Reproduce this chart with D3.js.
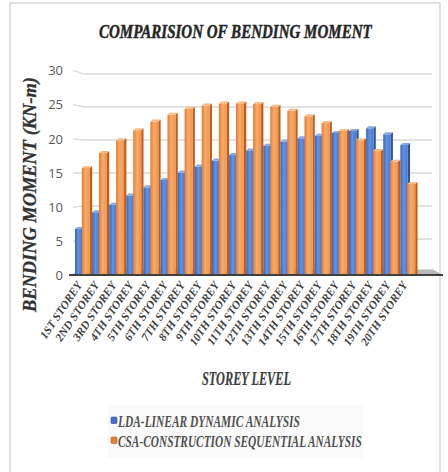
<!DOCTYPE html>
<html>
<head>
<meta charset="utf-8">
<script src="https://cdn.jsdelivr.net/npm/d3@7"></script>
<style>
  html, body { margin: 0; padding: 0; background: #ffffff; }
  svg { display: block; }
</style>
</head>
<body>
<div id="chart"></div>
<script>
// Storey levels along the x axis
const categories = [
  "1ST STOREY", "2ND STOREY", "3RD STOREY", "4TH STOREY", "5TH STOREY",
  "6TH STOREY", "7TH STOREY", "8TH STOREY", "9TH STOREY", "10TH STOREY",
  "11TH STOREY", "12TH STOREY", "13TH STOREY", "14TH STOREY", "15TH STOREY",
  "16TH STOREY", "17TH STOREY", "18TH STOREY", "19TH STOREY", "20TH STOREY"
];

// Bending moment (kN-m) per storey
const ldaValues = [6.7, 9.2, 10.3, 11.7, 12.9, 14.0, 15.1, 16.0, 16.9, 17.7,
                   18.4, 19.1, 19.7, 20.2, 20.6, 21.0, 21.3, 21.7, 20.8, 19.2];
const csaValues = [15.8, 18.0, 19.9, 21.4, 22.7, 23.7, 24.6, 25.1, 25.4, 25.4,
                   25.3, 24.9, 24.3, 23.5, 22.5, 21.3, 19.9, 18.3, 16.7, 13.4];

const seriesNames = ["LDA-LINEAR DYNAMIC ANALYSIS", "CSA-CONSTRUCTION SEQUENTIAL ANALYSIS"];
const seriesKeys = ["LDA", "CSA"];
const yTicks = [0, 5, 10, 15, 20, 25, 30];

const W = 448, H = 472;
const svg = d3.select("#chart").append("svg").attr("width", W).attr("height", H);
const defs = svg.append("defs");

// Colour ramps for the shaded 3D column faces
const palette = {
  LDA: { front: ["#3a63b3", "#6293e3", "#4677cc"], side: "#2d5296", top: "#85a9ea", legend: "#4472c4" },
  CSA: { front: ["#e37a34", "#f8ab69", "#f09447"], side: "#c05d1c", top: "#f9bb86", legend: "#ed7d31" }
};
seriesKeys.forEach(k => {
  const g = defs.append("linearGradient").attr("id", "grad-" + k)
    .attr("x1", "0%").attr("x2", "100%").attr("y1", "0%").attr("y2", "0%");
  g.append("stop").attr("offset", "0%").attr("stop-color", palette[k].front[0]);
  g.append("stop").attr("offset", "45%").attr("stop-color", palette[k].front[1]);
  g.append("stop").attr("offset", "100%").attr("stop-color", palette[k].front[2]);
});

// Outer chart frame
svg.append("path")
  .attr("d", "M10,480 L10,3 L440,3 L440,480")
  .attr("fill", "none").attr("stroke", "#d6d6d6").attr("stroke-width", 1.5);

// Scales: back wall, front edge and column depth each get their own vertical mapping
const yBack = d3.scaleLinear().domain([0, 30]).range([272, 74]);
const yFront = d3.scaleLinear().domain([0, 30]).range([275.5, 70.5]);
const y = d3.scaleLinear().domain([0, 30]).range([274, 72.5]);

const x0 = d3.scaleBand().domain(categories).range([75, 417.5]).paddingInner(0).paddingOuter(0);
const x1 = d3.scaleBand().domain(seriesKeys).range([0, x0.bandwidth()]).paddingInner(0);

// Gridlines: short perspective segment on the side wall, then flat along the back wall
const grid = svg.append("g").attr("class", "grid");
yTicks.filter(t => t > 0).forEach(t => {
  grid.append("path")
    .attr("d", `M73,${yFront(t)} L85,${yBack(t)} L432,${yBack(t)}`)
    .attr("fill", "none").attr("stroke", "#d9d9d9").attr("stroke-width", 1.3);
});

// Y tick labels
const yAxis = d3.axisLeft(yFront).tickValues(yTicks).tickSize(0).tickPadding(0);
const yAxisG = svg.append("g").attr("transform", "translate(63,0)").call(yAxis);
yAxisG.select(".domain").remove();
yAxisG.selectAll("text")
  .attr("font-family", "'Open Sans', 'Noto Sans', sans-serif")
  .attr("font-size", 13).attr("fill", "#595959");

// Floor
svg.append("path")
  .attr("d", "M70,275 L84,269.5 L433,269.5 L443,275 Z")
  .attr("fill", "#b8b8b8");

// Columns
const rows = categories.map((c, i) => ({ c, LDA: ldaValues[i], CSA: csaValues[i] }));
const sideW = 2.3, depth = 2;
const geom = {
  LDA: { off: 0, front: x1.bandwidth() * 0.86 },
  CSA: { off: x1.bandwidth() * 0.8, front: x1.bandwidth() * 1.2 - sideW }
};

const groups = svg.append("g").selectAll("g").data(rows).join("g")
  .attr("transform", d => `translate(${x0(d.c)},0)`);

seriesKeys.forEach(k => {
  const gk = groups.append("g");
  const base = y(0);
  // right-hand side face
  gk.append("path")
    .attr("d", d => {
      const xl = geom[k].off + geom[k].front;
      const yt = y(d[k]);
      return `M${xl},${yt} L${xl + sideW},${yt - depth} L${xl + sideW},${base} L${xl},${base} Z`;
    })
    .attr("fill", palette[k].side);
  // front face
  gk.append("rect")
    .attr("x", geom[k].off)
    .attr("y", d => y(d[k]))
    .attr("width", geom[k].front)
    .attr("height", d => base - y(d[k]))
    .attr("fill", `url(#grad-${k})`);
  // top cap
  gk.append("path")
    .attr("d", d => {
      const xl = geom[k].off, xr = xl + geom[k].front, yt = y(d[k]);
      return `M${xl},${yt} L${xr},${yt} L${xr + sideW},${yt - depth} L${xl + sideW},${yt - depth} Z`;
    })
    .attr("fill", palette[k].top);
});

// Front edge of the floor
svg.append("line")
  .attr("x1", 69).attr("x2", 443).attr("y1", 275).attr("y2", 275)
  .attr("stroke", "#3f3f3f").attr("stroke-width", 2);

const serif = "'Liberation Serif', 'Times New Roman', serif";

// Condensed serif text: draw at natural width, then squeeze horizontally to a target width
function condensedText(parent, text, size, width, fill, weight) {
  const g = parent.append("g");
  const t = g.append("text")
    .attr("font-family", serif).attr("font-style", "italic").attr("font-weight", "bold")
    .attr("font-size", size).attr("fill", fill)
    .attr("stroke", fill).attr("stroke-width", weight || 0)
    .text(text);
  const natural = t.node().getComputedTextLength();
  t.attr("transform", `scale(${width / natural},1)`);
  return g;
}

// Category labels, slanted
const xLabels = svg.append("g");
categories.forEach(c => {
  const cx = x0(c) + x0.bandwidth() / 2;
  xLabels.append("text")
    .attr("transform", `translate(${cx - 1},${285}) rotate(-56)`)
    .attr("text-anchor", "end")
    .attr("font-family", serif)
    .attr("font-style", "italic").attr("font-weight", "bold")
    .attr("font-size", 11.5).attr("fill", "#404040")
    .text(c);
});

// Chart title
condensedText(svg, "COMPARISION OF BENDING MOMENT", 19.5, 273, "#262626", 0.5)
  .attr("transform", "translate(99,38)");

// Y axis title
condensedText(svg, "BENDING MOMENT (KN-m)", 19, 235, "#333333", 0.3)
  .attr("transform", "translate(36,312) rotate(-90)");

// X axis title
condensedText(svg, "STOREY LEVEL", 19, 89, "#404040", 0.2)
  .attr("transform", "translate(202,385)");

// Legend
const legend = svg.append("g");
legend.append("rect")
  .attr("x", 107).attr("y", 405).attr("width", 256).attr("height", 53)
  .attr("fill", "#fafafa");
const legendRows = [
  { key: "LDA", name: seriesNames[0], y: 427, len: 182 },
  { key: "CSA", name: seriesNames[1], y: 447, len: 244 }
];
legendRows.forEach(r => {
  legend.append("rect")
    .attr("x", 111).attr("y", r.y - 10).attr("width", 6).attr("height", 6.5)
    .attr("rx", 1)
    .attr("fill", palette[r.key].legend)
    .attr("stroke", palette[r.key].side).attr("stroke-width", 0.6);
  condensedText(legend, r.name, 16, r.len, "#505050", 0)
    .attr("transform", `translate(118,${r.y})`);
});
</script>
</body>
</html>
